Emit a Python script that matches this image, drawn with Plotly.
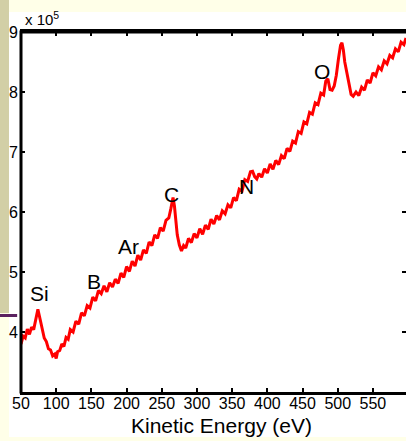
import plotly.graph_objects as go

# Kinetic energy (eV)
energy = [
    50, 53, 56, 59, 62, 65, 68, 71, 74, 77,
    80, 83, 86, 89, 92, 95, 98, 100, 102, 105,
    108, 111, 114, 117, 120, 124, 128, 132, 136, 140,
    144, 148, 152, 156, 160, 164, 168, 172, 176, 180,
    184, 188, 192, 196, 200, 204, 208, 212, 216, 220,
    224, 228, 232, 236, 240, 244, 248, 252, 256, 260,
    263, 266, 268, 270, 272, 275, 278, 281, 284, 288,
    292, 296, 300, 304, 308, 312, 316, 320, 324, 328,
    332, 336, 340, 344, 348, 352, 356, 360, 364, 368,
    372, 376, 379, 382, 385, 388, 392, 396, 400, 404,
    408, 412, 416, 420, 424, 428, 432, 436, 440, 444,
    448, 452, 456, 460, 464, 468, 472, 476, 480, 483,
    486, 489, 492, 495, 498, 501, 504, 506, 508, 510,
    513, 516, 519, 522, 526, 530, 534, 538, 542, 546,
    550, 554, 558, 562, 566, 570, 574, 578, 582, 586,
    590, 594, 597,
]

# Counts in units of 10^5
counts_e5 = [
    3.80, 3.93, 3.90, 4.05, 3.96, 4.08, 4.04, 4.24, 4.38, 4.22,
    4.06, 3.90, 3.84, 3.72, 3.70, 3.60, 3.63, 3.56, 3.67, 3.69,
    3.80, 3.76, 3.91, 3.88, 4.04, 4.00, 4.18, 4.13, 4.32, 4.27,
    4.44, 4.40, 4.58, 4.52, 4.69, 4.64, 4.77, 4.67, 4.82, 4.75,
    4.88, 4.81, 4.98, 4.91, 5.09, 5.01, 5.18, 5.10, 5.28, 5.20,
    5.37, 5.31, 5.50, 5.44, 5.62, 5.56, 5.74, 5.68, 5.86, 5.90,
    6.06, 6.24, 6.10, 5.85, 5.62, 5.45, 5.35, 5.44, 5.40, 5.56,
    5.49, 5.64, 5.57, 5.72, 5.63, 5.78, 5.71, 5.88, 5.80, 5.94,
    5.87, 6.02, 5.97, 6.12, 6.07, 6.24, 6.19, 6.38, 6.35, 6.54,
    6.51, 6.67, 6.68, 6.59, 6.55, 6.64, 6.58, 6.72, 6.65, 6.80,
    6.71, 6.86, 6.79, 6.94, 6.89, 7.06, 7.01, 7.18, 7.15, 7.34,
    7.31, 7.50, 7.47, 7.66, 7.63, 7.82, 7.79, 7.98, 7.95, 8.18,
    8.22, 8.04, 8.03, 8.10, 8.28, 8.55, 8.78, 8.82, 8.70, 8.50,
    8.30, 8.10, 7.96, 7.93, 8.00, 7.94, 8.08, 8.03, 8.20, 8.15,
    8.32, 8.27, 8.42, 8.37, 8.52, 8.47, 8.61, 8.57, 8.72, 8.67,
    8.83, 8.79, 8.90,
]

# Peak labels
peak_names = ["Si", "B", "Ar", "C", "N", "O"]
peak_x = [76, 154, 203, 264, 370, 477]
peak_y = [4.64, 4.85, 5.43, 6.30, 6.43, 8.35]

x_ticks = [50, 100, 150, 200, 250, 300, 350, 400, 450, 500, 550]
y_ticks = [4, 5, 6, 7, 8, 9]

FONT = "Liberation Sans, Arial, sans-serif"

fig = go.Figure()
fig.add_trace(go.Scatter(
    x=energy, y=counts_e5, mode="lines",
    line=dict(color="#ff0000", width=3),
    showlegend=False, hoverinfo="skip",
))

for name, px, py in zip(peak_names, peak_x, peak_y):
    fig.add_annotation(x=px, y=py, text=name, showarrow=False,
                       xanchor="center", yanchor="middle",
                       font=dict(family=FONT, size=21, color="black"))

# exponent label
fig.add_annotation(xref="paper", yref="paper", x=0.005, y=1.005,
                   text="x 10<sup>5</sup>", showarrow=False,
                   xanchor="left", yanchor="bottom",
                   font=dict(family=FONT, size=15, color="black"))

# axis title
fig.add_annotation(xref="paper", yref="paper", x=0.52, y=-0.0917,
                   text="Kinetic Energy (eV)", showarrow=False,
                   xanchor="center", yanchor="middle",
                   font=dict(family=FONT, size=21, color="black"))

shapes = [
    # white slide panel
    dict(type="rect", xref="paper", yref="paper", x0=-0.0312, x1=1.01,
         y0=-0.125, y1=1.0556, fillcolor="white", line_width=0, layer="below"),
    # khaki left strip
    dict(type="rect", xref="paper", yref="paper", x0=-0.06, x1=-0.0312,
         y0=0.2194, y1=1.1, fillcolor="#d2cfa6", line_width=0, layer="below"),
    # purple rule
    dict(type="line", xref="paper", yref="paper", x0=-0.06, x1=-0.01,
         y0=0.2125, y1=0.2125, line=dict(color="#5b2160", width=3), layer="below"),
    # left axis line
    dict(type="line", xref="paper", yref="paper", x0=0, x1=0, y0=-0.004, y1=1.004,
         line=dict(color="black", width=3), layer="above"),
    # top axis line
    dict(type="line", xref="paper", yref="paper", x0=0, x1=1.01, y0=1, y1=1,
         line=dict(color="black", width=3), layer="above"),
]

fig.update_layout(
    width=406, height=441,
    margin=dict(l=21, r=0, t=32, b=49, autoexpand=False),
    paper_bgcolor="#ffffe8",
    plot_bgcolor="white",
    shapes=shapes,
    font=dict(family=FONT, color="black"),
    xaxis=dict(
        range=[50, 597], tickvals=x_ticks, ticks="inside", ticklen=4,
        tickwidth=2, tickcolor="black", showline=True, linewidth=3,
        linecolor="black", mirror="ticks", showgrid=False, zeroline=False,
        automargin=False, ticklabelstandoff=-5,
        tickfont=dict(family=FONT, size=16, color="black"),
    ),
    yaxis=dict(
        range=[3.0, 9.0], tickvals=y_ticks, ticks="inside", ticklen=4,
        tickwidth=2, tickcolor="black", showline=True, linewidth=1,
        linecolor="rgba(0,0,0,0)", mirror="ticks", ticklabelstandoff=-1,
        showgrid=False, zeroline=False, automargin=False,
        tickfont=dict(family=FONT, size=16, color="black"),
    ),
)

fig.write_html(
    "out.html",
    config={"displayModeBar": False},
    post_script="document.body.style.margin='0px';document.body.style.overflow='hidden';",
)
